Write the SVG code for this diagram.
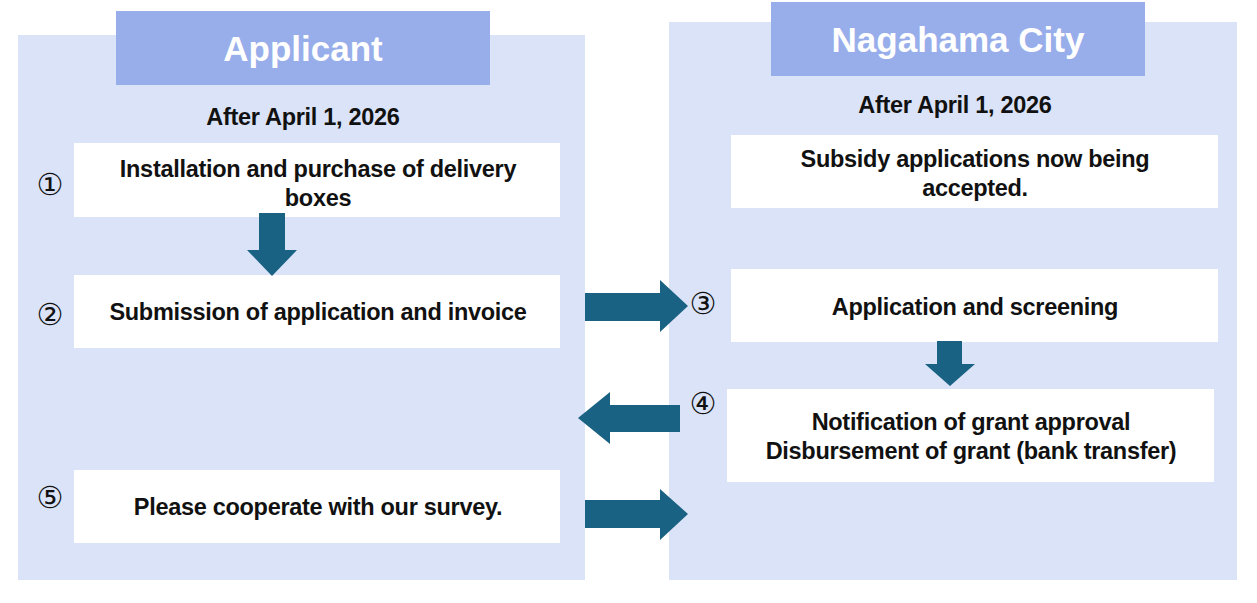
<svg xmlns="http://www.w3.org/2000/svg" width="1257" height="603" viewBox="0 0 1257 603">
<style>
.panel{fill:#dae3f7}
.hdr{fill:#98aeeb}
.box{fill:#ffffff}
.ht{font-family:"Liberation Sans",Arial,sans-serif;font-weight:bold;font-size:35px;fill:#fff;text-anchor:middle}
.t{font-family:"Liberation Sans",Arial,sans-serif;font-weight:bold;font-size:23.5px;fill:#111;text-anchor:middle;letter-spacing:-0.3px}
.n{font-family:"DejaVu Sans","Noto Sans CJK JP",sans-serif;font-size:30px;fill:#111;text-anchor:middle}
.ar{fill:#1a6283}
</style>
<rect width="1257" height="603" fill="#fff"/>
<g id="applicant">
<rect class="panel" x="18" y="35" width="567" height="545"/>
<rect class="hdr" x="116" y="11" width="374" height="74"/>
<text class="ht" x="303" y="61">Applicant</text>
<text class="t" x="303" y="125">After April 1, 2026</text>
</g>
<g id="city">
<rect class="panel" x="669" y="22" width="568" height="558"/>
<rect class="hdr" x="771" y="2" width="374" height="74"/>
<text class="ht" x="958" y="52">Nagahama City</text>
<text class="t" x="955" y="113">After April 1, 2026</text>
</g>
<g id="step1"><rect class="box" x="74" y="143" width="486" height="74"/>
<text class="n" x="50" y="195">①</text>
<text class="t" x="318" y="177">Installation and purchase of delivery</text>
<text class="t" x="318" y="206">boxes</text></g>
<g id="step2"><rect class="box" x="74" y="275" width="486" height="73"/>
<text class="n" x="50" y="325">②</text>
<text class="t" x="318" y="320">Submission of application and invoice</text></g>
<g id="step5"><rect class="box" x="74" y="470" width="486" height="73"/>
<text class="n" x="50" y="508">⑤</text>
<text class="t" x="318" y="515">Please cooperate with our survey.</text></g>
<g id="open"><rect class="box" x="731" y="135" width="487" height="73"/>
<text class="t" x="975" y="167">Subsidy applications now being</text>
<text class="t" x="975" y="196">accepted.</text></g>
<g id="step3"><rect class="box" x="731" y="269" width="487" height="73"/>
<text class="n" x="703" y="314">③</text>
<text class="t" x="975" y="315">Application and screening</text></g>
<g id="step4"><rect class="box" x="727" y="389" width="487" height="93"/>
<text class="n" x="703" y="414">④</text>
<text class="t" x="971" y="430">Notification of grant approval</text>
<text class="t" x="971" y="459">Disbursement of grant (bank transfer)</text></g>
<g id="connectors">
<polygon class="ar" points="259,213 285,213 285,250 297,250 272,276 247,250 259,250"/>
<polygon class="ar" points="585,293 660,293 660,280 688,306 660,332 660,321 585,321"/>
<polygon class="ar" points="680,405 610,405 610,392 578,418 610,444 610,432 680,432"/>
<polygon class="ar" points="585,500 660,500 660,489 688,514 660,540 660,528 585,528"/>
<polygon class="ar" points="937,341 962,341 962,364 975,364 950,386 925,364 937,364"/>
</g>
</svg>
